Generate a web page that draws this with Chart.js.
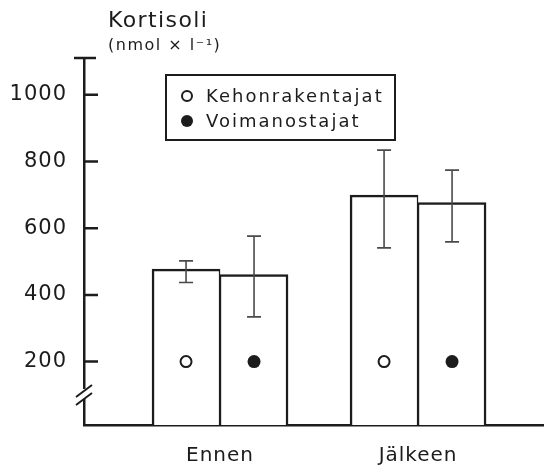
<!DOCTYPE html>
<html>
<head>
<meta charset="utf-8">
<title>Kortisoli</title>
<script src="https://cdn.jsdelivr.net/npm/chart.js@4/dist/chart.umd.min.js"></script>
<style>
  html, body { margin: 0; padding: 0; background: #fff; }
  #wrap { width: 544px; height: 472px; }
</style>
</head>
<body>
<div id="wrap"><canvas id="cortisolChart" width="544" height="472"></canvas></div>
<script>
const groups = ["Ennen", "Jälkeen"];
const groupPositions = [1, 2];
const seriesNames = ["Kehonrakentajat", "Voimanostajat"];
const bodybuilders = [477, 699];
const bodybuildersLow = [437, 541];
const bodybuildersHigh = [502, 834];
const powerlifters = [461, 677];
const powerliftersLow = [334, 559];
const powerliftersHigh = [576, 774];
const yTicks = [200, 400, 600, 800, 1000];
const markerLevel = 200;
const breakLevel = 100;
const yTitle = "Kortisoli";
const yUnit = "(nmol × l⁻¹)";

const ink = "#1c1c1c";
const face = "'DejaVu Sans', sans-serif";
const errorRanges = [
  [bodybuildersLow, bodybuildersHigh],
  [powerliftersLow, powerliftersHigh],
];

function circle(ctx, x, y, r, filled) {
  ctx.beginPath();
  ctx.arc(x, y, r, 0, Math.PI * 2);
  if (filled) {
    ctx.fillStyle = ink;
    ctx.fill();
  } else {
    ctx.fillStyle = "#fff";
    ctx.fill();
    ctx.lineWidth = 2;
    ctx.strokeStyle = ink;
    ctx.stroke();
  }
}

const decorations = {
  id: "decorations",
  beforeLayout(chart) {
    chart.ctx.letterSpacing = "1px";
  },
  beforeDraw(chart) {
    const ctx = chart.ctx;
    ctx.save();
    ctx.fillStyle = "#fff";
    ctx.fillRect(0, 0, chart.width, chart.height);
    ctx.restore();
    ctx.letterSpacing = "1px";
  },
  afterDatasetsDraw(chart) {
    const ctx = chart.ctx;
    const y = chart.scales.y;
    ctx.save();
    chart.data.datasets.forEach((ds, di) => {
      const meta = chart.getDatasetMeta(di);
      meta.data.forEach((bar, i) => {
        const lo = y.getPixelForValue(errorRanges[di][0][i]);
        const hi = y.getPixelForValue(errorRanges[di][1][i]);
        ctx.strokeStyle = "#4a4a4a";
        ctx.lineWidth = 1.6;
        ctx.beginPath();
        ctx.moveTo(bar.x, lo);
        ctx.lineTo(bar.x, hi);
        ctx.moveTo(bar.x - 7, lo);
        ctx.lineTo(bar.x + 7, lo);
        ctx.moveTo(bar.x - 7, hi);
        ctx.lineTo(bar.x + 7, hi);
        ctx.stroke();
        circle(ctx, bar.x, y.getPixelForValue(markerLevel), di === 0 ? 5.5 : 6.5, di === 1);
      });
    });
    ctx.restore();
  },
  afterDraw(chart) {
    const ctx = chart.ctx;
    const y = chart.scales.y;
    const area = chart.chartArea;
    ctx.save();
    ctx.strokeStyle = ink;
    ctx.lineWidth = 2.5;

    // inward tick marks
    ctx.beginPath();
    yTicks.forEach((v) => {
      const py = y.getPixelForValue(v);
      ctx.moveTo(area.left, py);
      ctx.lineTo(area.left + 14, py);
    });
    // cap at the top of the axis
    ctx.moveTo(area.left - 10, area.top);
    ctx.lineTo(area.left + 12, area.top);
    ctx.stroke();

    // axis break
    const by = y.getPixelForValue(breakLevel);
    ctx.fillStyle = "#fff";
    ctx.fillRect(area.left - 3, by - 6, 6, 10);
    ctx.lineWidth = 2;
    ctx.beginPath();
    ctx.moveTo(area.left - 8, by + 2);
    ctx.lineTo(area.left + 8, by - 10);
    ctx.moveTo(area.left - 8, by + 10);
    ctx.lineTo(area.left + 8, by - 2);
    ctx.stroke();

    // axis title
    ctx.fillStyle = ink;
    ctx.textBaseline = "alphabetic";
    ctx.textAlign = "left";
    ctx.letterSpacing = "1.4px";
    ctx.font = "22px " + face;
    ctx.fillText(yTitle, 108, 27);
    ctx.letterSpacing = "1.5px";
    ctx.font = "16px " + face;
    ctx.fillText(yUnit, 108, 50);

    // legend box
    ctx.lineWidth = 2;
    ctx.strokeRect(166, 75, 229, 65);
    ctx.font = "18px " + face;
    ctx.letterSpacing = "2px";
    ctx.textBaseline = "middle";
    seriesNames.forEach((name, i) => {
      const ly = 96 + i * 25;
      circle(ctx, 187, ly, i === 0 ? 5 : 6, i === 1);
      ctx.fillStyle = ink;
      ctx.fillText(name, 206, ly + 1);
    });
    ctx.restore();
  },
};

const barStyle = { backgroundColor: "#fff", borderColor: ink, borderSkipped: false, barThickness: 68, grouped: true };

new Chart(document.getElementById("cortisolChart"), {
  type: "bar",
  data: {
    datasets: [
      {
        label: seriesNames[0],
        data: groupPositions.map((x, i) => ({ x, y: bodybuilders[i] })),
        borderWidth: { top: 2.5, left: 2.5, right: 1.5, bottom: 0 },
        ...barStyle,
      },
      {
        label: seriesNames[1],
        data: groupPositions.map((x, i) => ({ x, y: powerlifters[i] })),
        borderWidth: { top: 2.5, left: 1.5, right: 2.5, bottom: 0 },
        ...barStyle,
      },
    ],
  },
  options: {
    responsive: false,
    animation: false,
    layout: { padding: { top: 58, left: 0, right: 0, bottom: 0 } },
    plugins: {
      legend: { display: false },
      tooltip: { enabled: false },
    },
    scales: {
      x: {
        type: "linear",
        offset: false,
        min: 0.313,
        max: 2.636,
        grid: { display: false, drawTicks: false, offset: false },
        border: { display: true, color: ink, width: 2.5 },
        afterBuildTicks: (scale) => {
          scale.ticks = groupPositions.map((v) => ({ value: v }));
        },
        afterFit: (scale) => {
          scale.height = 47;
        },
        ticks: {
          color: ink,
          font: { family: face, size: 20 },
          padding: 19,
          maxRotation: 0,
          autoSkip: false,
          callback: (v) => groups[groupPositions.indexOf(v)] ?? "",
        },
      },
      y: {
        min: 10,
        max: 1110,
        grid: { display: false, drawTicks: false },
        border: { display: true, color: ink, width: 2.5 },
        afterBuildTicks: (scale) => {
          scale.ticks = yTicks.map((v) => ({ value: v }));
        },
        afterFit: (scale) => {
          scale.width = 84;
        },
        ticks: {
          color: ink,
          font: { family: face, size: 21 },
          padding: 17,
          callback: (v) => String(v),
        },
      },
    },
  },
  plugins: [decorations],
});
</script>
</body>
</html>
